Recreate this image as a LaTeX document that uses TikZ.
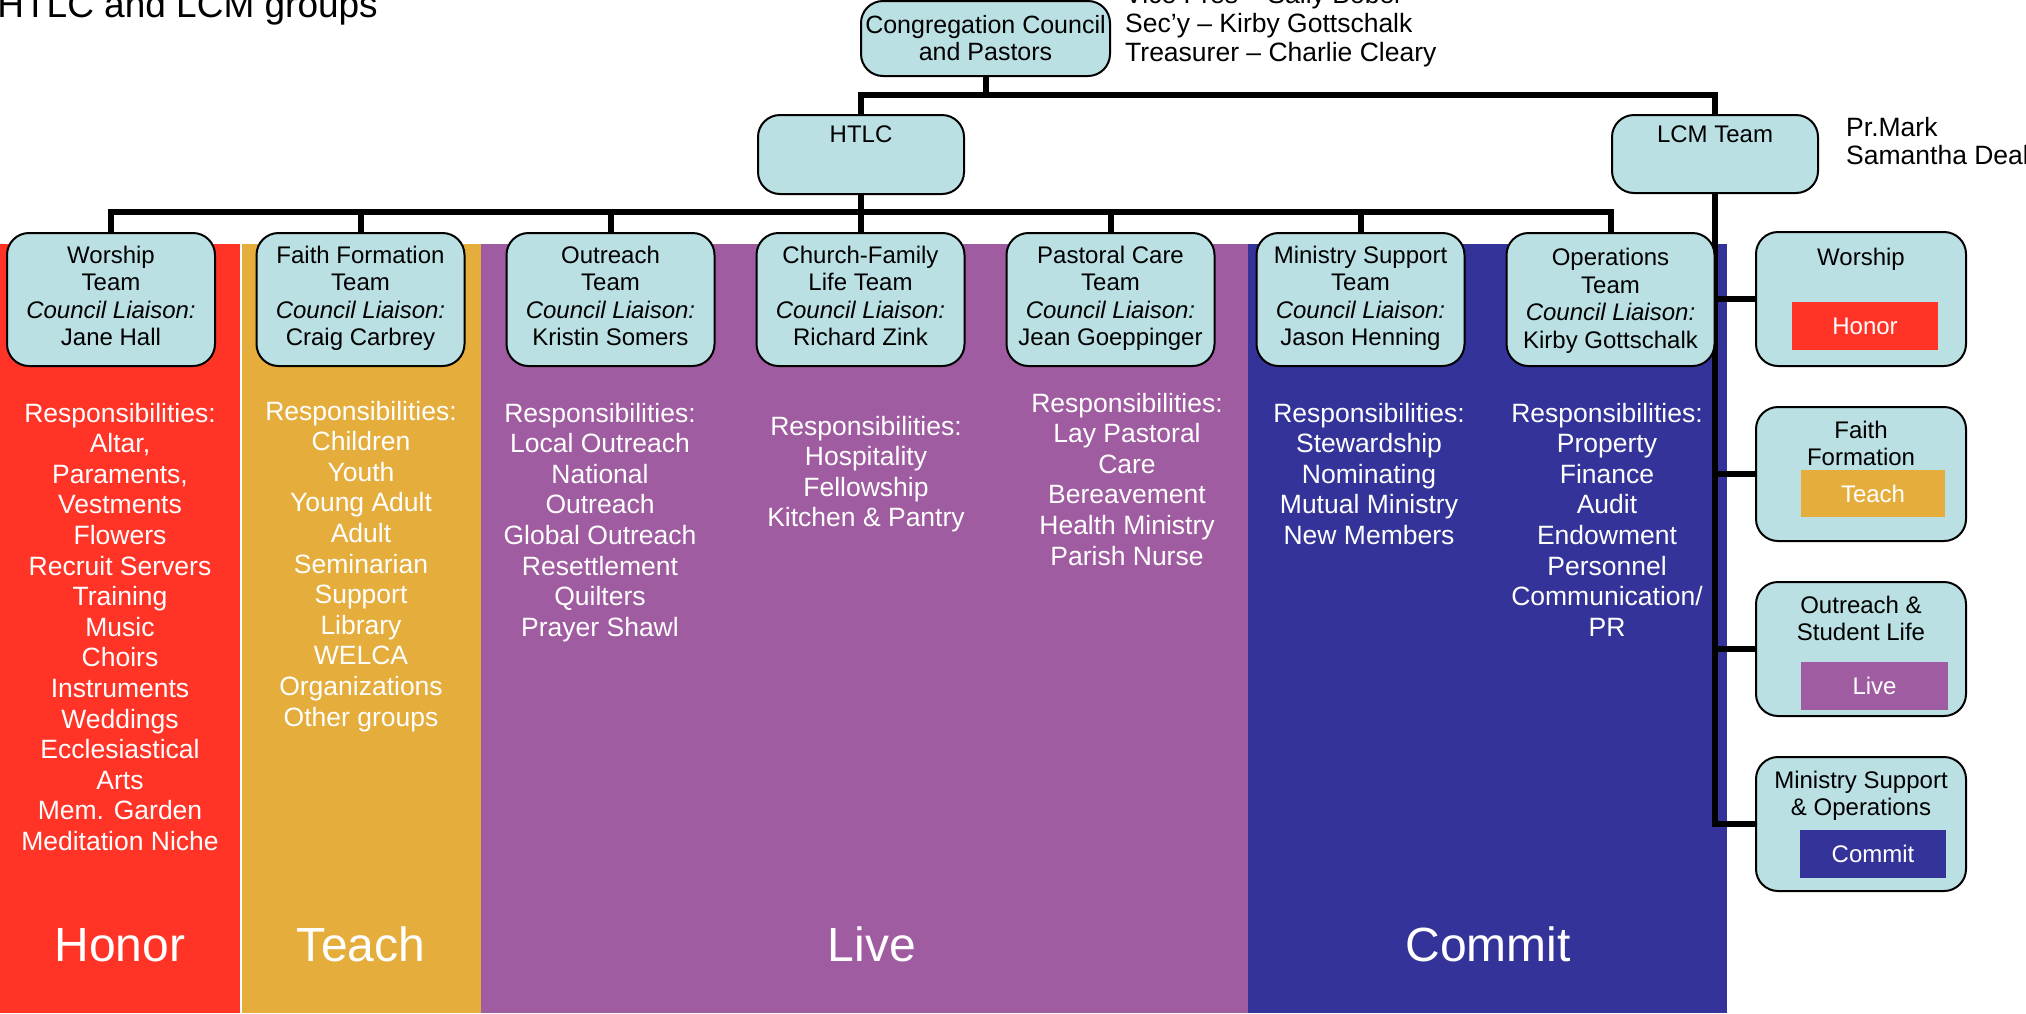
\documentclass[tikz,border=0pt]{standalone}
\usepackage{fontspec}
\setmainfont{Liberation Sans}
\pgfdeclarelayer{bands}
\pgfdeclarelayer{lines}
\pgfsetlayers{bands,lines,main}
\definecolor{bandred}{RGB}{255,51,38}
\definecolor{bandorange}{RGB}{229,173,60}
\definecolor{bandpurple}{RGB}{160,92,160}
\definecolor{bandnavy}{RGB}{52,51,153}
\definecolor{boxblue}{RGB}{186,224,227}
\begin{document}
\begin{tikzpicture}[x=1pt,y=-1pt,
  conn/.style={line width=6pt, line join=miter},
  orgbox/.style={draw=black, line width=2pt, fill=boxblue, rounded corners=22pt, inner sep=0pt},
  teambox/.style={orgbox, minimum width=208pt, minimum height=133pt},
  sidebox/.style={orgbox, minimum width=210pt, minimum height=134pt},
  boxtext/.style={font=\fontsize{24}{27.5}\selectfont, align=center, anchor=base, inner sep=0pt},
  resp/.style={font=\fontsize{26.5}{30.6}\selectfont, text=white, align=center, anchor=base, inner sep=0pt},
  big/.style={font=\fontsize{48}{50}\selectfont, text=white, anchor=base, inner sep=0pt},
  tag/.style={minimum width=146pt, minimum height=48pt, inner sep=0pt, text=white, font=\fontsize{24}{26}\selectfont},
  side/.style={font=\fontsize{26.5}{29}\selectfont, align=left, anchor=base west, inner sep=0pt},
]
\path[use as bounding box] (0,0) rectangle (2026,1013);

% colour bands
\begin{pgfonlayer}{bands}
\fill[bandred] (0,244) rectangle (240,1013);
\fill[bandorange] (241.5,244) rectangle (481,1013);
\fill[bandpurple] (481,244) rectangle (1248,1013);
\fill[bandnavy] (1248,244) rectangle (1727,1013);
\end{pgfonlayer}

% title and side texts (base anchor = last line baseline)
\node[font=\fontsize{37}{39}\selectfont, anchor=base east, inner sep=0pt] (title) at (378,17) {HTLC and LCM groups};
\node[side] (officers) at (1125,61) {Vice Pres – Sally Bobel\\Sec’y – Kirby Gottschalk\\Treasurer – Charlie Cleary};
\node[side, font=\fontsize{26.5}{28}\selectfont] (pastors) at (1846,164) {Pr.Mark\\Samantha Deal};

% top boxes
\node[orgbox, minimum width=249pt, minimum height=75pt] (cc) at (985.5,38.5) {};
\node[font=\fontsize{25}{27}\selectfont, align=center, anchor=base, inner sep=0pt] (cctext) at (985.5,60) {Congregation Council\\and Pastors};
\node[orgbox, minimum width=206pt, minimum height=79pt] (htlc) at (861,154.5) {};
\node[boxtext] (htlctext) at (861,142) {HTLC};
\node[orgbox, minimum width=206pt, minimum height=78pt] (lcm) at (1715,154) {};
\node[boxtext] (lcmtext) at (1715,142) {LCM Team};

% team boxes
\node[teambox] (t1) at (111,299.5) {};
\node[teambox] (t2) at (360.5,299.5) {};
\node[teambox] (t3) at (610.5,299.5) {};
\node[teambox] (t4) at (860.5,299.5) {};
\node[teambox] (t5) at (1110.5,299.5) {};
\node[teambox] (t6) at (1360.5,299.5) {};
\node[teambox] (t7) at (1610.5,299.5) {};
\node[boxtext] (t1t) at (111,345.5) {Worship\\Team\\\textit{Council Liaison:}\\Jane Hall};
\node[boxtext] (t2t) at (360.5,345.5) {Faith Formation\\Team\\\textit{Council Liaison:}\\Craig Carbrey};
\node[boxtext] (t3t) at (610.5,345.5) {Outreach\\Team\\\textit{Council Liaison:}\\Kristin Somers};
\node[boxtext] (t4t) at (860.5,345.5) {Church-Family\\Life Team\\\textit{Council Liaison:}\\Richard Zink};
\node[boxtext] (t5t) at (1110.5,345.5) {Pastoral Care\\Team\\\textit{Council Liaison:}\\Jean Goeppinger};
\node[boxtext] (t6t) at (1360.5,345.5) {Ministry Support\\Team\\\textit{Council Liaison:}\\Jason Henning};
\node[boxtext] (t7t) at (1610.5,348) {Operations\\Team\\\textit{Council Liaison:}\\Kirby Gottschalk};

% responsibilities
\node[resp] (r1resp) at (120,850.4) {Responsibilities:\\Altar,\\Paraments,\\Vestments\\Flowers\\Recruit Servers\\Training\\Music\\Choirs\\Instruments\\Weddings\\Ecclesiastical\\Arts\\Mem. Garden\\Meditation Niche};
\node[resp] (r2resp) at (361,726) {Responsibilities:\\Children\\Youth\\Young Adult\\Adult\\Seminarian\\Support\\Library\\WELCA\\Organizations\\Other groups};
\node[resp] (r3resp) at (600,636.2) {Responsibilities:\\Local Outreach\\National\\Outreach\\Global Outreach\\Resettlement\\Quilters\\Prayer Shawl};
\node[resp] (r4resp) at (866,526.8) {Responsibilities:\\Hospitality\\Fellowship\\Kitchen \& Pantry};
\node[resp] (r5resp) at (1127,565) {Responsibilities:\\Lay Pastoral\\Care\\Bereavement\\Health Ministry\\Parish Nurse};
\node[resp] (r6resp) at (1369,544.4) {Responsibilities:\\Stewardship\\Nominating\\Mutual Ministry\\New Members};
\node[resp] (r7resp) at (1607,636.2) {Responsibilities:\\Property\\Finance\\Audit\\Endowment\\Personnel\\Communication/\\PR};

% big labels
\node[big] (honorbig) at (120,961) {Honor};
\node[big] (teachbig) at (361,961) {Teach};
\node[big] (livebig) at (872,961) {Live};
\node[big] (commitbig) at (1488,961) {Commit};

% LCM side boxes
\node[sidebox] (s1) at (1861,299) {};
\node[sidebox] (s2) at (1861,474) {};
\node[sidebox] (s3) at (1861,649) {};
\node[sidebox] (s4) at (1861,824) {};
\node[boxtext] (s1t) at (1861,265) {Worship};
\node[boxtext] (s2t) at (1861,465.5) {Faith\\Formation};
\node[boxtext] (s3t) at (1861,640.5) {Outreach \&\\Student Life};
\node[boxtext] (s4t) at (1861,815.5) {Ministry Support\\\& Operations};
\node[tag, fill=bandred] (honor) at (1865,326) {Honor};
\node[tag, fill=bandorange, minimum width=144pt, minimum height=47pt] (teach) at (1873,493.5) {Teach};
\node[tag, fill=bandpurple, minimum width=147pt] (live) at (1874.5,686) {Live};
\node[tag, fill=bandnavy] (commit) at (1873,854) {Commit};

% connectors
\coordinate (topbus) at (0,95);
\coordinate (midbus) at (0,212);
\begin{pgfonlayer}{lines}
\draw[conn] (cc.south) -- (cc.south |- topbus);
\draw[conn] (htlc.north) -- (htlc.north |- topbus) -- (lcm.north |- topbus) -- (lcm.north);
\draw[conn] (htlc.south) -- (htlc.south |- midbus);
\draw[conn] (t1.north) -- (t1.north |- midbus) -- (t7.north |- midbus) -- (t7.north);
\foreach \t in {t2,t3,t4,t5,t6} \draw[conn] (\t.north) -- (\t.north |- midbus);
\draw[conn] (lcm.south) -- (lcm.south |- s4.west) -- (s4.west);
\foreach \s in {s1,s2,s3} \draw[conn] (lcm.south |- \s.west) -- (\s.west);
\end{pgfonlayer}
\end{tikzpicture}
\end{document}
